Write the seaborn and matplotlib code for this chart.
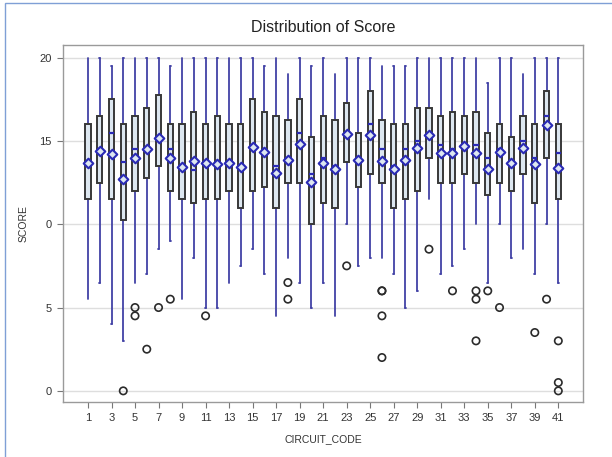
import matplotlib
matplotlib.use("Agg")
import matplotlib.pyplot as plt
import matplotlib.patches as mpatches
import seaborn as sns
import numpy as np
import pandas as pd

codes = list(range(1, 42))
whisker_low = [5.5, 6.5, 4.0, 3.0, 6.5, 7.0, 8.5, 9.0, 5.5, 8.0, 5.0, 5.0, 6.5, 7.5, 8.5, 7.0,
               4.5, 8.0, 6.5, 5.0, 6.5, 4.5, 10.0, 7.5, 8.0, 8.0, 7.0, 5.0, 6.0, 11.5, 7.0,
               7.5, 8.5, 10.0, 6.5, 10.0, 8.0, 8.5, 7.0, 10.0, 6.5]
whisker_high = [20, 20, 19.5, 20, 20, 20, 20, 19.5, 20, 20, 20, 20, 20, 20, 20, 19.5, 20, 19,
                20, 19.5, 20, 19, 20, 20, 20, 19.5, 19.5, 19.5, 20, 20, 20, 20, 20, 20, 18.5,
                20, 20, 19, 20, 20, 20]
q1 = [11.5, 12.5, 11.5, 10.25, 12, 12.75, 13.5, 12, 11.5, 11.25, 11.5, 11.5, 12, 11, 12, 12.25,
      11, 12.5, 12.5, 10, 11.25, 11, 13.75, 12.25, 13, 12.5, 11, 11.5, 12, 14, 12.5, 12.5, 13,
      12.5, 11.75, 12.5, 12, 13, 11.25, 14, 11.5]
q3 = [16, 16.5, 17.5, 16, 16.5, 17, 17.75, 16, 16, 16.75, 16, 16.5, 16, 16, 17.5, 16.75, 16.5,
      16.25, 17.5, 15.25, 16.5, 16.25, 17.25, 15.5, 18, 16.25, 16, 16, 17, 17, 16.5, 16.75,
      16.5, 16.75, 15.5, 16, 15.25, 16.5, 16, 18, 16]
medians = [13.75, 14.5, 15.5, 13.75, 14.5, 14.5, 15.25, 14.5, 13.5, 13.25, 13.75, 13.5, 13.75,
           13.5, 14.75, 14.5, 13.5, 14, 15.5, 13, 14, 13.5, 15.5, 14, 16, 14.5, 13.5, 14.5, 15,
           15.5, 14.75, 14.5, 14.75, 14.75, 14, 14.5, 13.75, 15, 14, 16.5, 14.25]
means = [13.7, 14.4, 14.2, 12.7, 14.0, 14.5, 15.2, 14.0, 13.45, 13.8, 13.7, 13.6, 13.7, 13.45,
         14.65, 14.35, 13.1, 13.85, 14.8, 12.55, 13.65, 13.3, 15.4, 13.85, 15.35, 13.8, 13.3,
         13.85, 14.6, 15.35, 14.3, 14.25, 14.7, 14.3, 13.3, 14.35, 13.65, 14.55, 13.6, 15.95, 13.4]
outlier_codes = [4, 5, 5, 6, 7, 8, 11, 18, 18, 23, 26, 26, 26, 26, 30, 32, 34, 34, 34, 35, 36,
                 39, 40, 41, 41, 41]
outlier_values = [0, 5.0, 4.5, 2.5, 5.0, 5.5, 4.5, 6.5, 5.5, 7.5, 6.0, 6.0, 4.5, 2.0, 8.5, 6.0,
                  6.0, 5.5, 3.0, 6.0, 5.0, 3.5, 5.5, 3.0, 0.5, 0.0]
xtick_codes = list(range(1, 42, 2))
ytick_values = [0, 5, 10, 15, 20]
ytick_labels = ["0", "5", "0", "15", "20"]

sns.set_theme(style="white")
plt.rcParams["font.family"] = ["Liberation Sans", "DejaVu Sans"]

W, H = 612, 457
fig = plt.figure(figsize=(W / 100, H / 100), dpi=100)
ax = fig.add_axes([63 / W, 1 - 401.7 / H, (583.3 - 63) / W, (401.7 - 45) / H])

whisk_color = "#4242a6"
stats = []
for i in range(len(codes)):
    stats.append(dict(med=medians[i], q1=q1[i], q3=q3[i],
                      whislo=whisker_low[i], whishi=whisker_high[i], fliers=[]))

ax.bxp(stats, positions=codes, widths=0.45, patch_artist=True, showfliers=False,
       showcaps=True,
       boxprops=dict(facecolor="#dde7f0", edgecolor="#383838", linewidth=1.4, zorder=3),
       whiskerprops=dict(color=whisk_color, linewidth=1.3, zorder=2),
       capprops=dict(color=whisk_color, linewidth=1.3, zorder=2),
       capwidths=0.06,
       medianprops=dict(color="#2a2ab5", linewidth=1.6, zorder=4))

mean_df = pd.DataFrame({"code": codes, "mean": means})
sns.scatterplot(data=mean_df, x="code", y="mean", marker="D", s=24, ax=ax,
                facecolor="#dde7f0", edgecolor="#2a2ab5", linewidth=1.5, zorder=5)

out_df = pd.DataFrame({"code": outlier_codes, "value": outlier_values})
sns.scatterplot(data=out_df, x="code", y="value", marker="o", s=28, ax=ax,
                facecolor="none", edgecolor="#2b2b2b", linewidth=1.2, zorder=5)

ax.set_xlim(-1.125, 43.125)
ax.set_ylim(-0.65, 20.75)
ax.set_xticks(xtick_codes)
ax.set_xticklabels([str(c) for c in xtick_codes])
ax.set_yticks(ytick_values)
ax.set_yticklabels(ytick_labels)
ax.yaxis.grid(True, color="#dedede", linewidth=1.0, zorder=0)
ax.xaxis.grid(False)
ax.set_axisbelow(True)
for sp in ax.spines.values():
    sp.set_color("#9a9a9a")
    sp.set_linewidth(1.0)
ax.tick_params(axis="both", which="major", direction="out", length=4, width=0.8,
               color="#777777", labelsize=8, labelcolor="#333333", pad=4,
               bottom=True, left=True)
ax.set_xlabel("CIRCUIT_CODE", fontsize=7.5, color="#333333", labelpad=8)
ax.set_ylabel("SCORE", fontsize=7.5, color="#333333", labelpad=8)
ax.set_title("Distribution of Score", fontsize=11.5, color="#222222", pad=9)

fig.patches.append(mpatches.Rectangle((5 / W, -0.02), 1.0, (H - 3) / H + 0.02,
                                      transform=fig.transFigure, fill=False,
                                      edgecolor="#7f9fd6", linewidth=1.0))

fig.savefig("out.png", dpi=100)
